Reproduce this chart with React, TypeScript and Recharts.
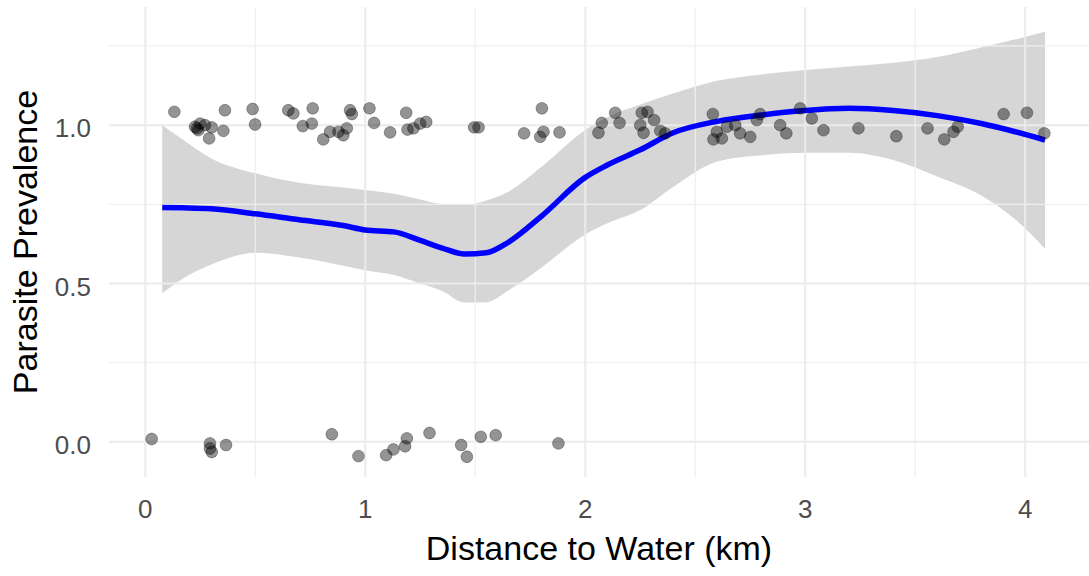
import React from 'react';
import {
  ComposedChart,
  XAxis,
  YAxis,
  ZAxis,
  ReferenceLine,
  Area,
  Line,
  Scatter,
} from 'recharts';

// LOESS fit
const smoothX = [0.077, 0.17, 0.3, 0.5, 0.7, 0.9, 1.0, 1.13, 1.25, 1.35, 1.45, 1.55, 1.65, 1.8, 2.0, 2.1, 2.25, 2.4, 2.6, 2.8, 3.0, 3.2, 3.4, 3.6, 3.8, 3.95, 4.09];
const smoothFit = [0.74, 0.739, 0.736, 0.72, 0.701, 0.683, 0.669, 0.663, 0.636, 0.612, 0.593, 0.597, 0.63, 0.712, 0.835, 0.874, 0.922, 0.976, 1.012, 1.032, 1.046, 1.053, 1.046, 1.03, 1.005, 0.98, 0.953];
const smoothLower = [0.469, 0.515, 0.56, 0.597, 0.582, 0.556, 0.542, 0.527, 0.5, 0.476, 0.44, 0.441, 0.478, 0.55, 0.655, 0.69, 0.732, 0.805, 0.885, 0.905, 0.913, 0.913, 0.89, 0.838, 0.778, 0.705, 0.61];
const smoothUpper = [1.0, 0.955, 0.895, 0.848, 0.818, 0.803, 0.795, 0.783, 0.765, 0.75, 0.748, 0.762, 0.79, 0.868, 0.985, 1.025, 1.065, 1.1, 1.14, 1.16, 1.174, 1.185, 1.197, 1.215, 1.245, 1.27, 1.295];

// Jittered observations
const pointX = [
  0.132, 0.226, 0.235, 0.241, 0.249, 0.271, 0.29, 0.302, 0.355, 0.362, 0.488, 0.499, 0.65, 0.673, 0.716, 0.757, 0.761,
  0.809, 0.84, 0.878, 0.9, 0.916, 0.931, 0.939, 1.019, 1.04, 1.113, 1.186, 1.192, 1.219, 1.249, 1.277, 1.495, 1.515,
  1.722, 1.803, 1.795, 1.81, 1.883, 2.075, 2.06, 2.136, 2.156, 2.257, 2.283, 2.25, 2.265, 2.313, 2.341, 2.363, 2.58,
  2.598, 2.583, 2.621, 2.644, 2.682, 2.704, 2.75, 2.78, 2.795, 2.886, 2.914, 2.977, 3.03, 3.083, 3.242, 3.414, 3.556,
  3.632, 3.674, 3.693, 3.902, 4.008, 4.087,
  0.029, 0.294, 0.294, 0.302, 0.367, 0.848, 0.969, 1.095, 1.128, 1.181, 1.189, 1.292, 1.436, 1.462, 1.525, 1.593, 1.878,
];
const pointY = [
  1.042, 0.995, 0.99, 0.984, 1.005, 1.0, 0.958, 0.993, 0.982, 1.047, 1.051, 1.002, 1.047, 1.037, 0.997, 1.005, 1.053,
  0.955, 0.979, 0.979, 0.968, 0.99, 1.047, 1.035, 1.053, 1.007, 0.977, 1.039, 0.986, 0.99, 1.005, 1.01, 0.993, 0.993,
  0.974, 1.053, 0.963, 0.979, 0.977, 1.007, 0.976, 1.039, 1.007, 1.039, 1.042, 1.0, 0.976, 1.016, 0.982, 0.974, 1.035,
  0.979, 0.955, 0.958, 0.995, 1.0, 0.974, 0.963, 1.016, 1.035, 1.0, 0.974, 1.053, 1.021, 0.984, 0.99, 0.965, 0.99,
  0.955, 0.979, 0.995, 1.035, 1.039, 0.974,
  0.009, -0.005, -0.021, -0.032, -0.01, 0.024, -0.045, -0.042, -0.024, -0.014, 0.011, 0.028, -0.01, -0.047, 0.016, 0.021, -0.005,
];

const xTicks = [0, 1, 2, 3, 4];
const xMinor = [0.5, 1.5, 2.5, 3.5];
const yTicks = [0, 0.5, 1];
const yMinor = [0.25, 0.75, 1.25];
const yTickLabels = ['0.0', '0.5', '1.0'];

const xTitle = 'Distance to Water (km)';
const yTitle = 'Parasite Prevalence';

const smoothData = smoothX.map((x, i) => ({ x, y: smoothFit[i], band: [smoothLower[i], smoothUpper[i]] }));
const pointData = pointX.map((x, i) => ({ x, y: pointY[i] }));

const FONT = '"Liberation Sans", Arial, sans-serif';

const Dot = (p: any) => (
  <circle cx={p.cx} cy={p.cy} r={5.9} fill="#000000" fillOpacity={0.42} stroke="#000000" strokeOpacity={0.3} strokeWidth={1} />
);

export default function App() {
  return (
    <div style={{ position: 'absolute', left: 0, top: 0, width: 1089, height: 576, fontFamily: FONT, background: '#ffffff' }}>
      <ComposedChart
        width={1089}
        height={576}
        data={smoothData}
        margin={{ top: 7, right: 0, bottom: 0, left: 0 }}
      >
        {xMinor.map((v) => (
          <ReferenceLine key={`xm${v}`} x={v} stroke="#EFEFEF" strokeWidth={1.2} />
        ))}
        {yMinor.map((v) => (
          <ReferenceLine key={`ym${v}`} y={v} stroke="#EFEFEF" strokeWidth={1.2} />
        ))}
        {xTicks.map((v) => (
          <ReferenceLine key={`xM${v}`} x={v} stroke="#EBEBEB" strokeWidth={2} />
        ))}
        {yTicks.map((v) => (
          <ReferenceLine key={`yM${v}`} y={v} stroke="#EBEBEB" strokeWidth={2} />
        ))}
        <XAxis
          type="number"
          dataKey="x"
          domain={[-0.165, 4.29]}
          ticks={xTicks}
          interval={0}
          allowDataOverflow
          axisLine={false}
          tickLine={false}
          tickSize={0}
          tickMargin={23}
          height={99}
          tick={{ fontSize: 26, fill: '#4D4D4D', fontFamily: FONT }}
        />
        <YAxis
          type="number"
          dataKey="y"
          domain={[-0.111, 1.373]}
          ticks={yTicks}
          interval={0}
          allowDataOverflow
          axisLine={false}
          tickLine={false}
          tickSize={0}
          tickMargin={18}
          width={109}
          tickFormatter={(v: number) => yTickLabels[yTicks.indexOf(v)] ?? String(v)}
          tick={{ fontSize: 26, fill: '#4D4D4D', fontFamily: FONT, dy: 3 }}
        />
        <ZAxis range={[110, 110]} />
        <Scatter data={pointData} dataKey="y" shape={Dot} isAnimationActive={false} />
        <Area type="monotone" dataKey="band" stroke="none" fill="#999999" fillOpacity={0.4} isAnimationActive={false} />
        <Line type="monotone" dataKey="y" stroke="#0000FF" strokeWidth={5.5} dot={false} isAnimationActive={false} />
      </ComposedChart>
      <svg
        width={1089}
        height={576}
        style={{ position: 'absolute', left: 0, top: 0, pointerEvents: 'none' }}
      >
        <text x={599} y={560} textAnchor="middle" fontSize={34} fill="#000000" fontFamily={FONT}>
          {xTitle}
        </text>
        <text
          x={37}
          y={242}
          transform="rotate(-90 37 242)"
          textAnchor="middle"
          fontSize={34}
          fill="#000000"
          fontFamily={FONT}
        >
          {yTitle}
        </text>
      </svg>
    </div>
  );
}
